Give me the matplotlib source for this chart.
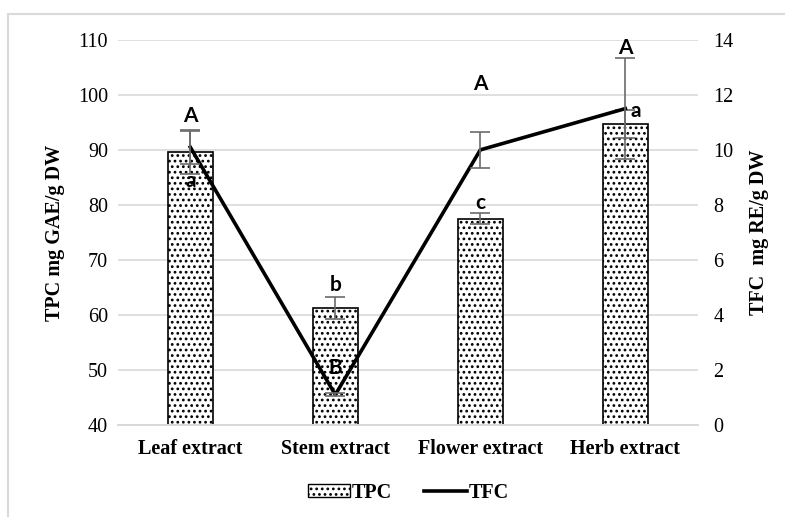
import matplotlib
matplotlib.use('Agg')
import matplotlib.pyplot as plt
from matplotlib.patches import Rectangle, Patch
from matplotlib.lines import Line2D

plt.rcParams['font.family'] = 'Liberation Serif'
plt.rcParams['hatch.linewidth'] = 1.2

# Extract data
categories = ['Leaf extract', 'Stem extract', 'Flower extract', 'Herb extract']
tpc = [89.6, 61.2, 77.5, 94.7]
tpc_err = [4.0, 2.0, 1.0, 2.5]
tfc = [10.1, 1.1, 10.0, 11.5]
tfc_err = [0.6, 0.05, 0.65, 1.85]

# significance letters: (category index, text, y on TPC axis, x shift)
letters = [(0, 'A', 96.2, 0.0), (0, 'a', 84.4, 0.0),
           (1, 'b', 65.4, 0.0), (1, 'B', 50.4, 0.0),
           (2, 'A', 102.0, 0.0), (2, 'c', 80.4, 0.0),
           (3, 'A', 108.6, 0.0), (3, 'a', 97.1, 0.07)]

fig = plt.figure(figsize=(7.85, 5.17), dpi=100)
ax = fig.add_axes([0.150, 0.178, 0.739, 0.745])
ax2 = ax.twinx()

x = list(range(len(categories)))
ax.bar(x, tpc, width=0.31, color='white', edgecolor='black', linewidth=1.2,
       hatch='...', zorder=2)
ax.errorbar(x, tpc, yerr=tpc_err, fmt='none', ecolor='#6b6b6b', elinewidth=1.2,
            capsize=7, capthick=1.2, zorder=3)

ax2.plot(x, tfc, color='black', linewidth=2.6, zorder=4)
ax2.errorbar(x, tfc, yerr=tfc_err, fmt='none', ecolor='#6b6b6b', elinewidth=1.2,
             capsize=7, capthick=1.2, zorder=5)

ax.set_ylim(40, 110)
ax.set_yticks(range(40, 111, 10))
ax2.set_ylim(0, 14)
ax2.set_yticks(range(0, 15, 2))
ax.set_xlim(-0.5, 3.5)
ax.set_xticks(x)
ax.set_xticklabels(categories, fontsize=14.5, fontweight='bold')

ax.grid(axis='y', color='#d9d9d9', linewidth=1.2, zorder=0)
ax.set_axisbelow(True)
for a in (ax, ax2):
    for side in ('top', 'left', 'right'):
        a.spines[side].set_visible(False)
    a.spines['bottom'].set_color('#d9d9d9')
    a.spines['bottom'].set_linewidth(1.2)
ax.tick_params(axis='y', length=0, labelsize=14.5, pad=7)
ax2.tick_params(axis='y', length=0, labelsize=14.5, pad=11)
ax.tick_params(axis='x', length=0, pad=10)

ax.set_ylabel('TPC mg GAE/g DW', fontsize=14.5, fontweight='bold', labelpad=9)
ax2.set_ylabel('TFC  mg RE/g DW', fontsize=14.5, fontweight='bold', labelpad=11)

for i, txt, yv, dx in letters:
    ax.text(i + dx, yv, txt, ha='center', va='center', fontsize=15,
            fontweight='bold', family='Lato', zorder=6)

handles = [Patch(facecolor='white', edgecolor='black', hatch='...', linewidth=1.0),
           Line2D([0], [0], color='black', linewidth=2.6)]
fig.legend(handles, ['TPC', 'TFC'], loc='center', bbox_to_anchor=(0.52, 0.047),
           ncol=2, frameon=False, prop={'family': 'Liberation Serif', 'size': 14.5,
                                        'weight': 'bold'},
           handlelength=2.1, handleheight=0.6, handletextpad=0.1,
           columnspacing=1.6)

# light chart frame
fig.patches.append(Rectangle((8 / 785, -0.1), 1.2, 1 - 14 / 517 + 0.1,
                             transform=fig.transFigure, fill=False,
                             edgecolor='#d9d9d9', linewidth=1.5))

fig.savefig('out.png', dpi=100)
